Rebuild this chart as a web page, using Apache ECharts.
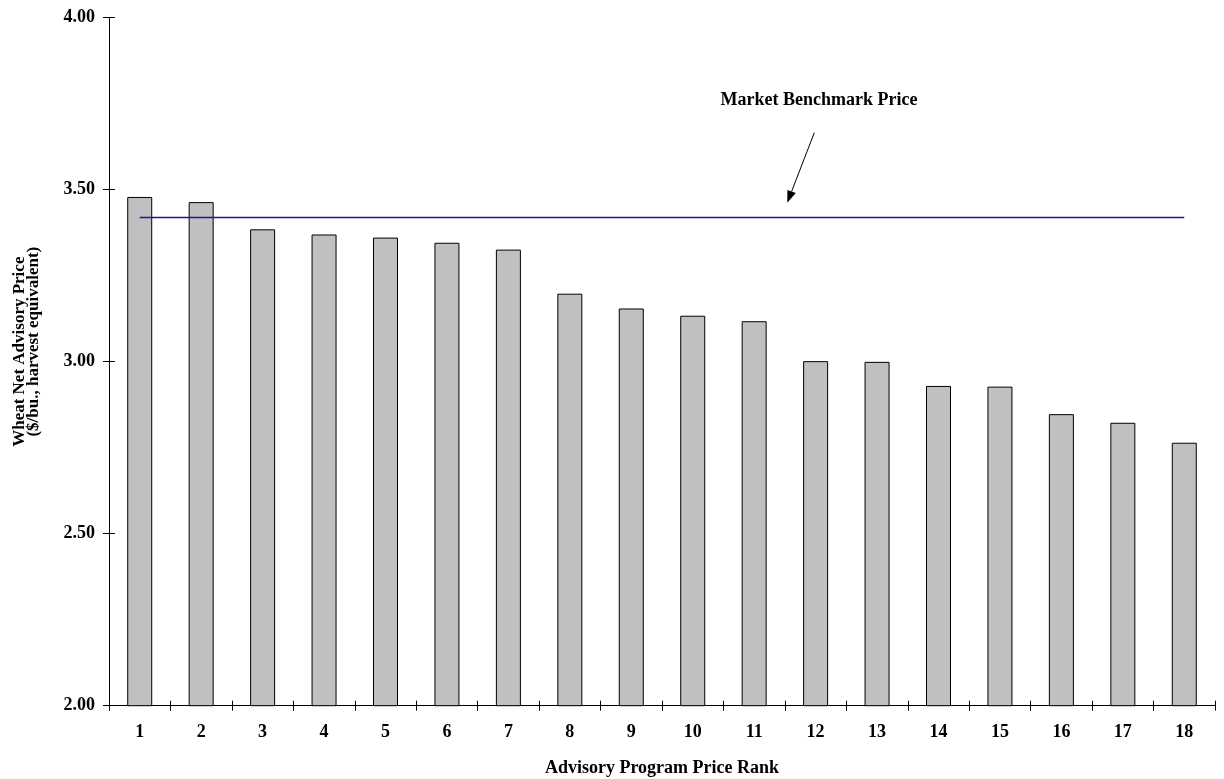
<!DOCTYPE html>
<html>
<head>
<meta charset="utf-8">
<script src="https://cdn.jsdelivr.net/npm/echarts@6/dist/echarts.min.js"></script>
<style>
html,body{margin:0;padding:0;background:#fff;}
#chart{width:1224px;height:779px;}
</style>
</head>
<body>
<div id="chart"></div>
<script>
const categories = ['1','2','3','4','5','6','7','8','9','10','11','12','13','14','15','16','17','18'];
const prices = [3.478, 3.463, 3.384, 3.369, 3.360, 3.345, 3.325, 3.197, 3.154, 3.133, 3.117, 3.001, 2.999, 2.929, 2.927, 2.847, 2.822, 2.764];
const benchmarkPrice = 3.42;
const benchmarkLabel = 'Market Benchmark Price';
const xTitle = 'Advisory Program Price Rank';
const yTitleLines = ['Wheat Net Advisory Price', '($/bu., harvest equivalent)'];

const FONT = '"Liberation Serif", "Times New Roman", serif';
const GRID = {left: 109, right: 9, top: 17.3, bottom: 73.3};
const gridW = 1224 - GRID.left - GRID.right;
const gridH = 779 - GRID.top - GRID.bottom;
const chart = echarts.init(document.getElementById('chart'), null, {renderer: 'canvas'});

const baseX = {
  type: 'category',
  data: categories,
  boundaryGap: true,
  splitLine: {show: false}
};
const baseY = {
  type: 'value',
  min: 2, max: 4, interval: 0.5,
  splitLine: {show: false}
};

chart.setOption({
  animation: false,
  backgroundColor: '#fff',
  grid: Object.assign({containLabel: false, outerBoundsMode: 'none'}, GRID),
  xAxis: [
    Object.assign({}, baseX, {
      position: 'bottom',
      axisLine: {show: true, lineStyle: {color: '#000', width: 1}},
      axisTick: {show: true, inside: false, length: 5, lineStyle: {color: '#000'}},
      axisLabel: {margin: 18, color: '#000', fontFamily: FONT, fontWeight: 'bold', fontSize: 18},
      name: xTitle, nameLocation: 'middle', nameGap: 54,
      nameTextStyle: {color: '#000', fontFamily: FONT, fontWeight: 'bold', fontSize: 18}
    }),
    Object.assign({}, baseX, {
      position: 'top', offset: -gridH,
      axisLine: {show: false},
      axisTick: {show: true, inside: false, length: 5, lineStyle: {color: '#000'}},
      axisLabel: {show: false}
    })
  ],
  yAxis: [
    Object.assign({}, baseY, {
      position: 'left',
      axisLine: {show: true, lineStyle: {color: '#000', width: 1}},
      axisTick: {show: true, inside: false, length: 6, lineStyle: {color: '#000'}},
      axisLabel: {margin: 14, color: '#000', fontFamily: FONT, fontWeight: 'bold', fontSize: 18,
        formatter: v => v.toFixed(2)}
    }),
    Object.assign({}, baseY, {
      position: 'right', offset: -gridW,
      axisLine: {show: false},
      axisTick: {show: true, inside: false, length: 6, lineStyle: {color: '#000'}},
      axisLabel: {show: false}
    })
  ],
  series: [{
    type: 'bar',
    data: prices,
    barWidth: 25,
    xAxisIndex: 0, yAxisIndex: 0,
    itemStyle: {color: '#c0c0c0', borderColor: '#000', borderWidth: 1},
    silent: true,
    markLine: {
      silent: true,
      symbol: 'none',
      label: {show: false},
      lineStyle: {color: '#1818a0', width: 1.4, type: 'solid'},
      data: [[{coord: [categories[0], benchmarkPrice]}, {coord: [categories[categories.length - 1], benchmarkPrice]}]]
    }
  }],
  graphic: [
    {type: 'text', x: 819, y: 100, style: {text: benchmarkLabel, fill: '#000', font: 'bold 18px ' + FONT, textAlign: 'center', textVerticalAlign: 'middle'}},
    {type: 'line', shape: {x1: 814.3, y1: 132.7, x2: 791.6, y2: 191.5}, style: {stroke: '#000', lineWidth: 1}},
    {type: 'polygon', shape: {points: [[787.3, 202.7], [795.8, 193.1], [787.4, 189.9]]}, style: {fill: '#000'}},
    {type: 'text', x: 19.5, y: 351.7, rotation: Math.PI / 2, style: {text: yTitleLines[0], fill: '#000', font: 'bold 17px ' + FONT, textAlign: 'center', textVerticalAlign: 'middle'}},
    {type: 'text', x: 34, y: 341.7, rotation: Math.PI / 2, style: {text: yTitleLines[1], fill: '#000', font: 'bold 17px ' + FONT, textAlign: 'center', textVerticalAlign: 'middle'}}
  ]
});
</script>
</body>
</html>
